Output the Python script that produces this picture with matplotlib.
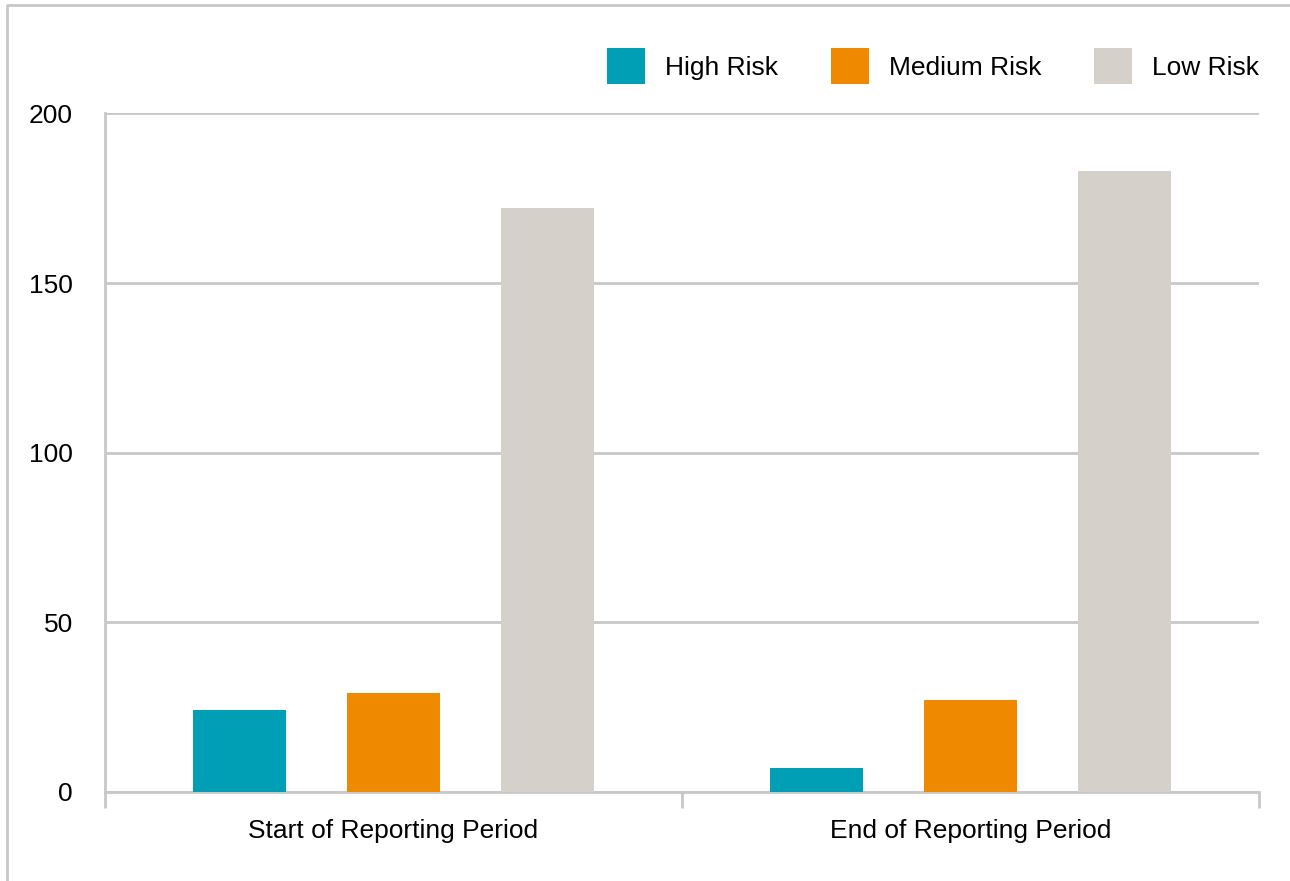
import numpy as np
import matplotlib.pyplot as plt
from matplotlib.lines import Line2D
from matplotlib.patches import Patch

plt.rcParams['font.family'] = ['Liberation Sans', 'DejaVu Sans']

categories = ["Start of Reporting Period", "End of Reporting Period"]
series = ["High Risk", "Medium Risk", "Low Risk"]
high = [24, 7]
medium = [29, 27]
low = [172, 183]
colors = ["#009fb5", "#ef8a00", "#d5d1ca"]
grid_c = "#c8c8c8"
fs = 19

fig = plt.figure(figsize=(12.9, 8.81), dpi=100)
ax = fig.add_axes([105/1290, 1-791.7/881, (1259-105)/1290, (791.7-113.5)/881])

x = np.arange(len(categories))
w = 0.161
step = 0.267
for i, (vals, name) in enumerate(zip([high, medium, low], series)):
    ax.bar(x + (i-1)*step, vals, width=w, color=colors[i], label=name, zorder=3)

ax.set_xlim(-0.5, 1.5)
ax.set_ylim(0, 200)
ax.set_yticks([0, 50, 100, 150, 200])
ax.yaxis.grid(True, color=grid_c, linewidth=2, zorder=0)
ax.tick_params(axis='y', length=0, pad=23, labelsize=fs)
ax.set_xticks(x)
ax.set_xticklabels(categories, fontsize=fs)
ax.tick_params(axis='x', length=0, pad=19.5)
# category boundary ticks
ax.set_xticks([-0.5, 0.5, 1.5], minor=True)
ax.tick_params(axis='x', which='minor', length=11.5, width=2, color=grid_c, direction='out')
for s in ['top', 'right']:
    ax.spines[s].set_visible(False)
for s in ['left', 'bottom']:
    ax.spines[s].set_color(grid_c)
    ax.spines[s].set_linewidth(2)

handles = [Patch(facecolor=c, label=n) for c, n in zip(colors, series)]
fig.legend(handles=handles, loc='center right', bbox_to_anchor=(1259/1290, 1-66/881),
           ncol=3, frameon=False, fontsize=fs, handlelength=1.45, handleheight=1.75,
           handletextpad=0.75, columnspacing=2.0, borderpad=0, borderaxespad=0)

# outer frame (top and left only)
fig.add_artist(Line2D([7/1290, 7/1290, 1.0], [0, 1-5/881, 1-5/881],
                      transform=fig.transFigure, color=grid_c, linewidth=2))

fig.savefig("out.png", dpi=100)
